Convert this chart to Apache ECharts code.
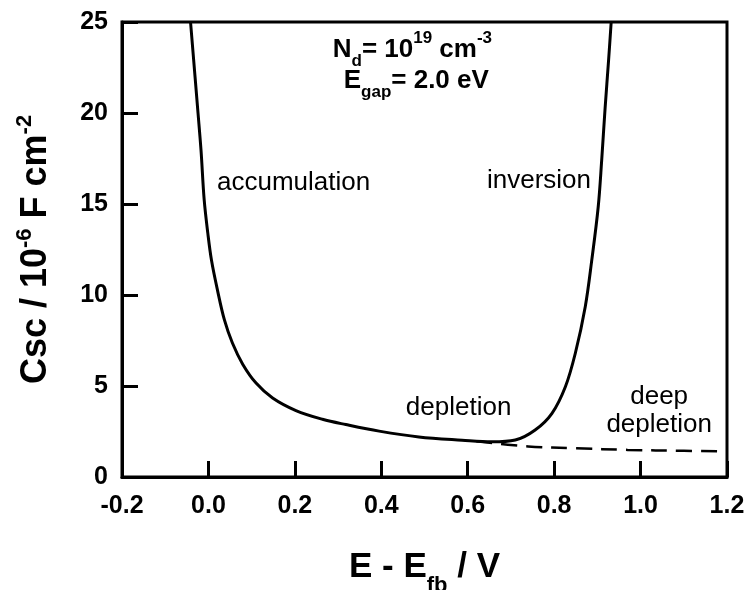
<!DOCTYPE html>
<html>
<head>
<meta charset="utf-8">
<script src="https://cdn.jsdelivr.net/npm/echarts@6/dist/echarts.min.js"></script>
<style>
  html, body { margin: 0; padding: 0; background: #fff; }
  #main { width: 750px; height: 590px; }
</style>
</head>
<body>
<div id="main"></div>
<script>
// solid curve: accumulation -> depletion -> inversion
var solidE = [-0.0414, -0.0241, -0.0172, -0.0098, -0.0015, 0.0070, 0.0209, 0.0370, 0.0555, 0.0793, 0.1102, 0.1485, 0.2025, 0.2639, 0.3179, 0.395, 0.487, 0.587, 0.656, 0.710, 0.756, 0.795, 0.826, 0.849, 0.872, 0.887, 0.902, 0.910, 0.918, 0.926, 0.932];
var solidC = [25.0, 20.0, 17.97, 15.22, 13.41, 11.92, 10.27, 8.63, 7.36, 6.2, 5.16, 4.34, 3.65, 3.17, 2.88, 2.52, 2.2, 2.02, 1.93, 2.03, 2.58, 3.5, 4.96, 6.8, 9.36, 11.9, 14.85, 17.4, 20.3, 22.9, 25.0];

// dashed curve: deep depletion
var deepE = [0.62, 0.74, 0.85, 0.97, 1.10, 1.20];
var deepC = [1.96, 1.68, 1.58, 1.49, 1.44, 1.40];

var xTicks = { min: -0.2, max: 1.2, step: 0.2 };
var yTicks = { min: 0, max: 25, step: 5 };

// text labels in data coords
var labelPos = [
    { e: 0.197, c: 16.15, text: 'accumulation' },
    { e: 0.765, c: 16.26, text: 'inversion' },
    { e: 0.579, c: 3.79, text: 'depletion' },
    { e: 1.043, c: 3.65, text: 'deep\ndepletion' }
];

var font = 'Liberation Sans, Arial, sans-serif';

function pairs(xs, ys) {
    var out = [];
    for (var i = 0; i < xs.length; i++) out.push([xs[i], ys[i]]);
    return out;
}

var myChart = echarts.init(document.getElementById('main'));

var option = {
    backgroundColor: '#fff',
    animation: false,
    grid: {
        left: 122, right: 23, top: 22, bottom: 113,
        outerBoundsMode: 'none', containLabel: false,
        show: true, borderColor: '#000', borderWidth: 3
    },
    xAxis: {
        type: 'value',
        min: xTicks.min, max: xTicks.max, interval: xTicks.step,
        axisLine: { onZero: false, lineStyle: { color: '#000', width: 3 } },
        axisTick: { inside: true, length: 16, lineStyle: { color: '#000', width: 3 } },
        axisLabel: {
            margin: 17, color: '#000', fontSize: 25, fontWeight: 'bold', fontFamily: font,
            formatter: function (v) { return v.toFixed(1); }
        },
        splitLine: { show: false },
        name: '{b|E - E}{sub|fb}{b| / V}',
        nameLocation: 'middle',
        nameGap: 60,
        nameTextStyle: {
            rich: {
                b: { fontSize: 35, fontWeight: 'bold', fontFamily: font, color: '#000', lineHeight: 44 },
                sub: { fontSize: 22, fontWeight: 'bold', fontFamily: font, color: '#000', lineHeight: 60, verticalAlign: 'bottom' }
            }
        }
    },
    yAxis: {
        type: 'value',
        min: yTicks.min, max: yTicks.max, interval: yTicks.step,
        axisLine: { onZero: false, lineStyle: { color: '#000', width: 3 } },
        axisTick: { inside: true, length: 16, lineStyle: { color: '#000', width: 3 } },
        axisLabel: { margin: 14, color: '#000', fontSize: 25, fontWeight: 'bold', fontFamily: font },
        splitLine: { show: false },
        name: '{b|Csc / 10}{sup|-6}{b| F cm}{sup|-2}',
        nameLocation: 'middle',
        nameGap: 64,
        nameTextStyle: {
            rich: {
                b: { fontSize: 36, fontWeight: 'bold', fontFamily: font, color: '#000', lineHeight: 44 },
                sup: { fontSize: 22, fontWeight: 'bold', fontFamily: font, color: '#000', lineHeight: 44, verticalAlign: 'top' }
            }
        }
    },
    series: [{
        type: 'line',
        data: pairs(solidE, solidC),
        smooth: 0.35,
        showSymbol: false,
        clip: true,
        lineStyle: { color: '#000', width: 3 }
    }, {
        type: 'line',
        data: pairs(deepE, deepC),
        smooth: 0.35,
        showSymbol: false,
        clip: true,
        lineStyle: { color: '#000', width: 2.5, type: [16, 9] }
    }]
};

myChart.setOption(option);

// place labels via the chart's own coordinate conversion
var graphics = [];
labelPos.forEach(function (l) {
    var p = myChart.convertToPixel({ gridIndex: 0 }, [l.e, l.c]);
    graphics.push({
        type: 'text', x: p[0], y: p[1],
        style: {
            text: l.text, fill: '#000', font: '26px ' + font,
            align: 'center', verticalAlign: 'middle', lineHeight: 28
        }
    });
});

var ndPos = myChart.convertToPixel({ gridIndex: 0 }, [0.472, 23.45]);
var egPos = myChart.convertToPixel({ gridIndex: 0 }, [0.481, 21.75]);
var annRich = {
    b: { fontSize: 26, fontWeight: 'bold', fontFamily: font, fill: '#000', lineHeight: 30 },
    sup: { fontSize: 17, fontWeight: 'bold', fontFamily: font, fill: '#000', lineHeight: 30, verticalAlign: 'top' },
    sub: { fontSize: 17, fontWeight: 'bold', fontFamily: font, fill: '#000', lineHeight: 40, verticalAlign: 'bottom' }
};
graphics.push({
    type: 'text', x: ndPos[0], y: ndPos[1],
    style: { text: '{b|N}{sub|d}{b|= 10}{sup|19}{b| cm}{sup|-3}', rich: annRich, align: 'center', verticalAlign: 'middle' }
});
graphics.push({
    type: 'text', x: egPos[0], y: egPos[1],
    style: { text: '{b|E}{sub|gap}{b|= 2.0 eV}', rich: annRich, align: 'center', verticalAlign: 'middle' }
});

myChart.setOption({ graphic: graphics });
</script>
</body>
</html>
